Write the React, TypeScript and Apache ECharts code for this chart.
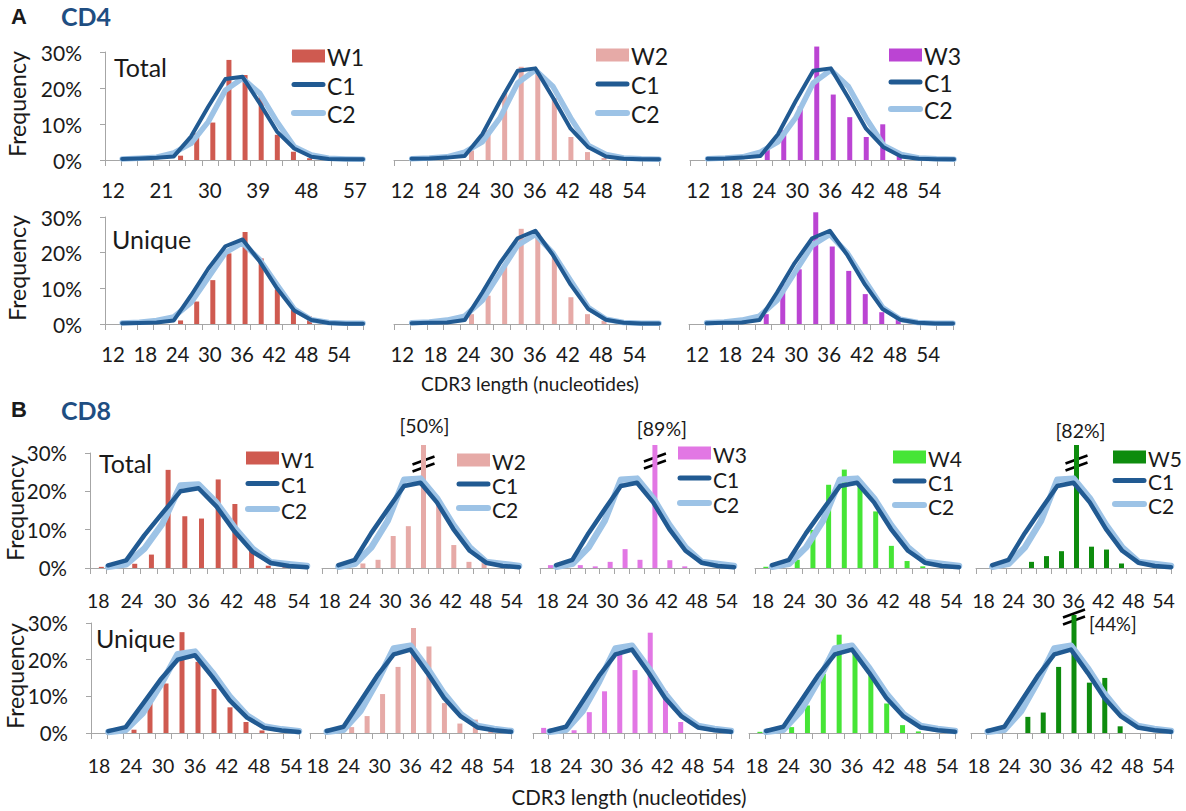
import React, { useEffect, useRef } from "react";
import * as echarts from "echarts";

const FONT = "Lato, 'Open Sans', sans-serif";
const TEXT = "#1a1a1a";
const AXIS = "#a6a6a6";
const C1_COLOR = "#215a92";
const C2_COLOR = "#9dc3e6";
const BLUE_TITLE = "#1f4e82";

// CDR3 length categories (nucleotides)
const catsA = [12, 15, 18, 21, 24, 27, 30, 33, 36, 39, 42, 45, 48, 51, 54, 57];
const catsB = [18, 21, 24, 27, 30, 33, 36, 39, 42, 45, 48, 51, 54];

// CD4 control curves (%)
const cd4TotalC1 = [null, 0.3, 0.4, 0.6, 1, 6.5, 14.8, 22.5, 23.1, 15.7, 7.9, 3.2, 0.9, 0.3, 0.2, 0.2];
const cd4TotalC2 = [null, 0.3, 0.5, 0.8, 2, 4.6, 10.6, 19.4, 22.7, 18.5, 10.6, 3.7, 1.4, 0.5, 0.3, 0.2];
const cd4UniqueC1 = [null, 0.2, 0.3, 0.4, 1, 8, 15.5, 21.8, 23.7, 17.5, 10, 3.8, 1.1, 0.3, 0.1, 0.1];
const cd4UniqueC2 = [null, 0.3, 0.5, 1, 2, 6, 13, 20, 22.8, 18, 11, 4.2, 1.2, 0.4, 0.2, 0.2];

// CD4 samples (%)
const cd4TotalW1 = [0, 0, 0, 0, 1.2, 7.4, 10.4, 27.8, 23.6, 18, 7, 2.3, 0.5, 0, 0, 0];
const cd4TotalW2 = [0, 0, 0, 0, 2.4, 7.5, 16.9, 23.5, 22, 15.6, 5.8, 2, 0.5, 0, 0, 0.2];
const cd4TotalW3 = [0, 0, 0, 0, 2.8, 7.5, 13.5, 28.6, 16.5, 10.8, 5.8, 9, 1.1, 0.4, 0, 0];
const cd4UniqueW1 = [0, 0, 0, 0, 1, 6.3, 12.3, 19.8, 25.8, 18.4, 9.7, 4, 2.1, 0.3, 0, 0];
const cd4UniqueW2 = [0, 0, 0, 0, 2.5, 7.2, 15.2, 24.2, 23.2, 17.3, 6.8, 2.5, 0.8, 0, 0, 0.3];
const cd4UniqueW3 = [0, 0, 0, 0, 2.5, 10.1, 13.9, 28.4, 19.7, 13.5, 7.6, 3, 1.9, 0.3, 0, 0];

// CD8 control curves (%)
const cd8TotalC1 = [null, 0.7, 2, 8.5, 14.3, 20, 20.8, 16, 9.5, 4.2, 1.3, 0.5, 0.2];
const cd8TotalC2 = [null, 0.3, 1, 5, 11.5, 21.5, 21.8, 17, 10.5, 5, 1.5, 1, 0.5];
const cd8UniqueC1 = [null, 0.5, 1.6, 8, 14.5, 20, 21.2, 15.3, 8.9, 4.2, 1.4, 0.7, 0.3];
const cd8UniqueC2 = [null, 0.3, 0.8, 5.5, 13, 21.5, 22.2, 16.5, 10, 4.8, 1.8, 1, 0.5];

// CD8 samples (%)
const cd8TotalW1 = [0.3, 0, 1.1, 3.5, 25.6, 13.5, 12.9, 23.1, 16.7, 4.6, 0.6, 0.2, 0.3];
const cd8TotalW2 = [0, 0, 1.1, 2, 7.8, 10.2, 50, 16.2, 5.6, 1.5, 2.2, 0, 0];
const cd8TotalW3 = [0.7, 0, 0.7, 0.4, 1.5, 4.6, 2, 89, 1.9, 0.4, 0, 0, 0];
const cd8TotalW4 = [0.3, 0, 2, 9.3, 20.3, 24, 20, 13.8, 5.4, 1.7, 0.4, 0, 0];
const cd8TotalW5 = [0, 0, 0, 1.5, 2.9, 4.1, 82, 5.2, 4.5, 1.1, 0, 0, 0];
const cd8UniqueW1 = [0, 0, 0.9, 9.5, 13.5, 27.5, 19.4, 12, 7, 3, 0.7, 0, 0];
const cd8UniqueW2 = [0, 0, 1.5, 4.3, 9.9, 16.8, 26.7, 22, 7.6, 2.4, 3.4, 1.7, 0];
const cd8UniqueW3 = [1.3, 0, 0.7, 5.3, 10.6, 20.5, 16, 25.5, 10.6, 2.8, 0, 0, 0];
const cd8UniqueW4 = [0.3, 0, 1.5, 7, 15, 25, 20.5, 15.5, 7.5, 2, 0.4, 0, 0];
const cd8UniqueW5 = [0, 0, 0, 4.1, 5.2, 16.8, 44, 12.8, 14, 1.7, 0, 0, 0];

const yTicks = [0, 10, 20, 30];

const COL_W1 = "#cf5a50";
const COL_W2 = "#e6aaa7";
const COL_W3_CD4 = "#bb44d3";
const COL_W3_CD8 = "#e277e4";
const COL_W4 = "#46e536";
const COL_W5 = "#0e8c0e";

type Legend = { x: number; y: number; gap: number; name: string; fs: number };
type Brk = { idx: number; dy: number; label: string; dx: number; ly: number; align: "center" | "left"; fs: number };
type Panel = {
  left: number; top: number; width: number; height: number;
  cats: number[]; bars: number[]; color: string; c1: (number | null)[]; c2: (number | null)[];
  showY: boolean; labelInterval: number; fs: number; margin: number; yfs: number;
  legend?: Legend; tag?: { text: string; x: number; y: number }; brk?: Brk;
  lw1: number; lw2: number;
};

const A = { cats: catsA, fs: 20.5, margin: 19, yfs: 21, lw1: 4, lw2: 5.5 };
const B = { cats: catsB, fs: 19.5, margin: 22, yfs: 20.5, lw1: 4.5, lw2: 6.5 };

const panels: Panel[] = [
  // CD4 Total
  { ...A, left: 105, top: 52, width: 258, height: 108, bars: cd4TotalW1, color: COL_W1, c1: cd4TotalC1, c2: cd4TotalC2, showY: true, labelInterval: 2,
    legend: { x: 292, y: 56, gap: 28.5, name: "W1", fs: 23 }, tag: { text: "Total", x: 114, y: 67 } },
  { ...A, left: 394, top: 41, width: 265, height: 119, bars: cd4TotalW2, color: COL_W2, c1: cd4TotalC1, c2: cd4TotalC2, showY: false, labelInterval: 1,
    legend: { x: 596, y: 55, gap: 29, name: "W2", fs: 23 } },
  { ...A, left: 690, top: 41, width: 264, height: 119, bars: cd4TotalW3, color: COL_W3_CD4, c1: cd4TotalC1, c2: cd4TotalC2, showY: false, labelInterval: 1,
    legend: { x: 889, y: 55, gap: 27, name: "W3", fs: 23 } },
  // CD4 Unique
  { ...A, left: 105, top: 217, width: 258, height: 107, bars: cd4UniqueW1, color: COL_W1, c1: cd4UniqueC1, c2: cd4UniqueC2, showY: true, labelInterval: 1,
    tag: { text: "Unique", x: 112, y: 239 } },
  { ...A, left: 394, top: 206, width: 265, height: 118, bars: cd4UniqueW2, color: COL_W2, c1: cd4UniqueC1, c2: cd4UniqueC2, showY: false, labelInterval: 1 },
  { ...A, left: 689, top: 206, width: 264, height: 118, bars: cd4UniqueW3, color: COL_W3_CD4, c1: cd4UniqueC1, c2: cd4UniqueC2, showY: false, labelInterval: 1 },
  // CD8 Total
  { ...B, left: 90, top: 453, width: 217, height: 115, bars: cd8TotalW1, color: COL_W1, c1: cd8TotalC1, c2: cd8TotalC2, showY: true, labelInterval: 1,
    legend: { x: 246, y: 458, gap: 25.5, name: "W1", fs: 21 }, tag: { text: "Total", x: 99, y: 463 } },
  { ...B, left: 322, top: 445, width: 197, height: 123, bars: cd8TotalW2, color: COL_W2, c1: cd8TotalC1, c2: cd8TotalC2, showY: false, labelInterval: 1,
    legend: { x: 457, y: 460, gap: 24, name: "W2", fs: 21 },
    brk: { idx: 6, dy: 19, label: "[50%]", dx: 1, ly: 425, align: "center", fs: 19.5 } },
  { ...B, left: 540, top: 445, width: 194, height: 123, bars: cd8TotalW3, color: COL_W3_CD8, c1: cd8TotalC1, c2: cd8TotalC2, showY: false, labelInterval: 1,
    legend: { x: 678, y: 453, gap: 25, name: "W3", fs: 21 },
    brk: { idx: 7, dy: 16, label: "[89%]", dx: 7, ly: 428, align: "center", fs: 19.5 } },
  { ...B, left: 755, top: 445, width: 204, height: 123, bars: cd8TotalW4, color: COL_W4, c1: cd8TotalC1, c2: cd8TotalC2, showY: false, labelInterval: 1,
    legend: { x: 893, y: 457, gap: 24, name: "W4", fs: 21 } },
  { ...B, left: 976, top: 445, width: 195, height: 123, bars: cd8TotalW5, color: COL_W5, c1: cd8TotalC1, c2: cd8TotalC2, showY: false, labelInterval: 1,
    legend: { x: 1113, y: 457, gap: 23.5, name: "W5", fs: 21 },
    brk: { idx: 6, dy: 18, label: "[82%]", dx: 4, ly: 430, align: "center", fs: 19.5 } },
  // CD8 Unique
  { ...B, left: 91, top: 623, width: 208, height: 110, bars: cd8UniqueW1, color: COL_W1, c1: cd8UniqueC1, c2: cd8UniqueC2, showY: true, labelInterval: 1,
    tag: { text: "Unique", x: 96, y: 638 } },
  { ...B, left: 310, top: 615, width: 201, height: 118, bars: cd8UniqueW2, color: COL_W2, c1: cd8UniqueC1, c2: cd8UniqueC2, showY: false, labelInterval: 1 },
  { ...B, left: 533, top: 615, width: 198, height: 118, bars: cd8UniqueW3, color: COL_W3_CD8, c1: cd8UniqueC1, c2: cd8UniqueC2, showY: false, labelInterval: 1 },
  { ...B, left: 749, top: 615, width: 206, height: 118, bars: cd8UniqueW4, color: COL_W4, c1: cd8UniqueC1, c2: cd8UniqueC2, showY: false, labelInterval: 1 },
  { ...B, left: 971, top: 615, width: 200, height: 118, bars: cd8UniqueW5, color: COL_W5, c1: cd8UniqueC1, c2: cd8UniqueC2, showY: false, labelInterval: 1,
    brk: { idx: 6, dy: 2, label: "[44%]", dx: 15, ly: 624, align: "left", fs: 18.5 } },
];

function buildOption(): any {
  const grid: any[] = [];
  const xAxis: any[] = [];
  const yAxis: any[] = [];
  const series: any[] = [];
  panels.forEach((p, i) => {
    grid.push({ left: p.left, top: p.top, width: p.width, height: p.height, containLabel: false, outerBoundsMode: "none" });
    xAxis.push({
      type: "category", gridIndex: i, data: p.cats.map(String), boundaryGap: true,
      axisLine: { show: true, lineStyle: { color: AXIS, width: 1 } },
      axisTick: { show: true, interval: 0, length: 6, lineStyle: { color: AXIS } },
      axisLabel: { interval: p.labelInterval, margin: p.margin, fontSize: p.fs, fontFamily: FONT, color: TEXT },
      splitLine: { show: false },
    });
    xAxis.push({ type: "category", gridIndex: i, data: p.cats.map(String), boundaryGap: false, show: false });
    yAxis.push({
      type: "value", gridIndex: i, min: 0, max: 30, interval: 10, show: p.showY,
      axisLine: { show: true, lineStyle: { color: AXIS } },
      axisTick: { show: true, length: 5, lineStyle: { color: AXIS } },
      axisLabel: { formatter: (v: number) => (yTicks.includes(v) ? v + "%" : ""), fontSize: p.yfs, fontFamily: FONT, color: TEXT, margin: 23 },
      splitLine: { show: false },
    });
    // empty spacer series: reproduces the slight right shift of the bars within each category
    series.push({ type: "bar", name: "spacer", xAxisIndex: 2 * i, yAxisIndex: i, data: p.bars.map(() => null), barWidth: 1, silent: true,
      itemStyle: { color: "rgba(0,0,0,0)" } });
    series.push({ type: "bar", name: "W", xAxisIndex: 2 * i, yAxisIndex: i, data: p.bars, barWidth: 5, barGap: "500%", clip: true,
      itemStyle: { color: p.color }, silent: true });
    series.push({ type: "line", name: "C2", xAxisIndex: 2 * i + 1, yAxisIndex: i, data: p.c2, symbol: "none", silent: true,
      lineStyle: { color: C2_COLOR, width: p.lw2, cap: "round", join: "round" } });
    series.push({ type: "line", name: "C1", xAxisIndex: 2 * i + 1, yAxisIndex: i, data: p.c1, symbol: "none", silent: true,
      lineStyle: { color: C1_COLOR, width: p.lw1, cap: "round", join: "round" } });
  });
  return { animation: false, backgroundColor: "#ffffff", grid, xAxis, yAxis, series };
}

function txt(text: string, x: number, y: number, fs: number, opts: any = {}) {
  return {
    type: "text", x, y, rotation: opts.rotation || 0, silent: true,
    style: {
      text, fontSize: fs, fontFamily: opts.family || FONT, fontWeight: opts.weight || "normal",
      fill: opts.color || TEXT, align: opts.align || "left", verticalAlign: "middle",
    },
  };
}

function buildGraphic(chart: any): any[] {
  const g: any[] = [];
  g.push(txt("A", 11, 16, 22, { weight: "bold", family: "'Liberation Sans', Arial, sans-serif" }));
  g.push(txt("CD4", 61, 16, 25, { weight: "bold", color: BLUE_TITLE }));
  g.push(txt("B", 11, 409, 22, { weight: "bold", family: "'Liberation Sans', Arial, sans-serif" }));
  g.push(txt("CD8", 61, 410, 25, { weight: "bold", color: BLUE_TITLE }));
  [[17, 104], [17, 268], [15, 508], [15, 676]].forEach(([x, y]) =>
    g.push(txt("Frequency", x, y, 23, { rotation: Math.PI / 2, align: "center" })));
  g.push(txt("CDR3 length (nucleotides)", 530, 383, 19, { align: "center" }));
  g.push(txt("CDR3 length (nucleotides)", 629, 797, 20.5, { align: "center" }));

  panels.forEach((p, i) => {
    if (p.tag) g.push(txt(p.tag.text, p.tag.x, p.tag.y, 25));
    if (p.legend) {
      const L = p.legend;
      g.push({ type: "rect", silent: true, shape: { x: L.x, y: L.y - 6.5, width: 33, height: 13 }, style: { fill: p.color } });
      g.push(txt(L.name, L.x + 35, L.y + 1, L.fs));
      g.push({ type: "line", silent: true, shape: { x1: L.x + 2, y1: L.y + L.gap, x2: L.x + 31, y2: L.y + L.gap },
        style: { stroke: C1_COLOR, lineWidth: 5, lineCap: "round" } });
      g.push(txt("C1", L.x + 35, L.y + L.gap + 1, L.fs));
      g.push({ type: "line", silent: true, shape: { x1: L.x + 2, y1: L.y + 2 * L.gap, x2: L.x + 31, y2: L.y + 2 * L.gap },
        style: { stroke: C2_COLOR, lineWidth: 6, lineCap: "round" } });
      g.push(txt("C2", L.x + 35, L.y + 2 * L.gap + 1, L.fs));
    }
    if (p.brk) {
      const b = p.brk;
      const cx = chart.convertToPixel({ xAxisIndex: 2 * i }, b.idx) + 3;
      const topY = chart.convertToPixel({ yAxisIndex: i }, 30);
      const cy = topY + b.dy;
      [-3.5, 3.5].forEach((o) => {
        g.push({ type: "line", silent: true,
          shape: { x1: cx - 11, y1: cy + o + 4, x2: cx + 11, y2: cy + o - 4 },
          style: { stroke: "#000000", lineWidth: 2.5 } });
      });
      g.push(txt(b.label, cx + b.dx, b.ly, b.fs, { align: b.align }));
    }
  });
  return g;
}

export default function App() {
  const ref = useRef<HTMLDivElement>(null);
  useEffect(() => {
    document.body.style.margin = "0";
    if (!ref.current) return;
    const chart = echarts.init(ref.current, undefined, { renderer: "svg" });
    chart.setOption(buildOption());
    chart.setOption({ graphic: buildGraphic(chart) });
    return () => chart.dispose();
  }, []);
  return (
    <div
      ref={ref}
      style={{ position: "absolute", left: 0, top: 0, width: 1186, height: 811, background: "#fff" }}
    />
  );
}
